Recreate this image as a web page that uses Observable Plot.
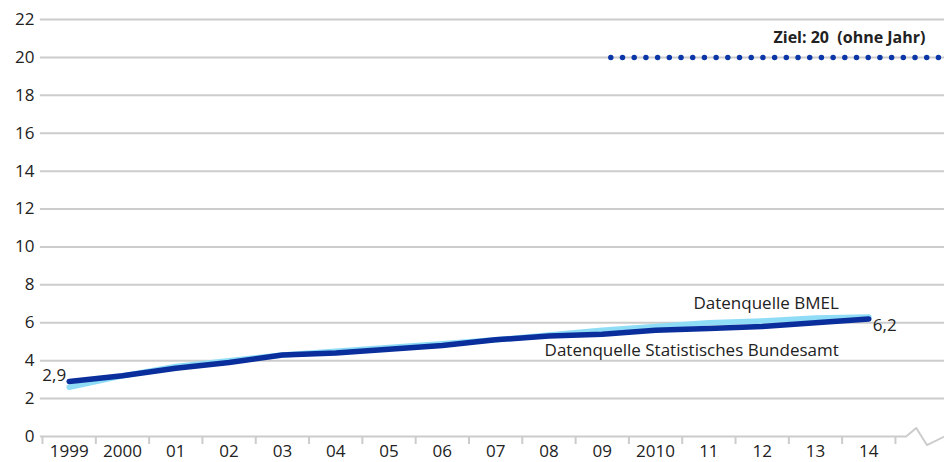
<!DOCTYPE html>
<html>
<head>
<meta charset="utf-8">
<script src="https://cdn.jsdelivr.net/npm/d3@7"></script>
<script src="https://cdn.jsdelivr.net/npm/@observablehq/plot@0.6"></script>
<style>
  html, body { margin: 0; padding: 0; background: #fff; }
  #chart { width: 944px; height: 462px; }
  svg { font-family: "Open Sans", "Noto Sans", sans-serif; }
</style>
</head>
<body>
<div id="chart"></div>
<script>
const years = ["1999","2000","01","02","03","04","05","06","07","08","09","2010","11","12","13","14"];
const destatis = [2.9,3.2,3.6,3.9,4.3,4.4,4.6,4.8,5.1,5.3,5.4,5.6,5.7,5.8,6.0,6.2];
const bmel = [2.6,3.2,3.7,4.0,4.3,4.5,4.7,4.9,5.1,5.35,5.6,5.8,6.0,6.1,6.25,6.3];
const yTicks = [0,2,4,6,8,10,12,14,16,18,20,22];
const target = 20;
const targetLabel = "Ziel: 20  (ohne Jahr)";
const targetStartIndex = 10.17;
const labelBMEL = "Datenquelle BMEL";
const labelDestatis = "Datenquelle Statistisches Bundesamt";
// decorative axis break (x in category units, y in value units)
const breakPath = [{x: 15.7, y: 0}, {x: 15.89, y: 0.45}, {x: 16.09, y: -0.45}, {x: 16.42, y: 0.0}];

const idx = years.map((_, i) => i);
const dDest = years.map((y, i) => ({i, v: destatis[i]}));
const dBmel = years.map((y, i) => ({i, v: bmel[i]}));
const last = years.length - 1;
const boundaries = d3.range(-0.5, years.length + 0.5, 1);
const grid = yTicks.filter(d => d > 0);

const plot = Plot.plot({
  width: 944,
  height: 462,
  marginLeft: 42,
  marginRight: 0,
  marginTop: 19,
  marginBottom: 26,
  style: {fontSize: "17px", color: "#222", fontFamily: "'Open Sans', 'Noto Sans', sans-serif"},
  x: {type: "linear", domain: [-0.5, 16.42], axis: null},
  y: {domain: [0, 22], axis: null},
  marks: [
    Plot.ruleY(grid, {stroke: "#cccccc", strokeWidth: 2, x1: -0.54, x2: 16.42}),
    Plot.ruleY([0], {stroke: "#cccccc", strokeWidth: 2, x1: -0.54, x2: 15.7}),
    Plot.axisY(yTicks, {tickSize: 0, tickPadding: 8, fontSize: 17, fill: "#222", label: null}),
    Plot.axisX(boundaries, {tickSize: 8, tickFormat: () => "", stroke: "#cccccc", strokeWidth: 2, label: null}),
    Plot.axisX(idx, {tickSize: 0, tickPadding: 8, tickFormat: i => years[i], fontSize: 17, fill: "#222", label: null}),
    Plot.line(breakPath, {x: "x", y: "y", stroke: "#cccccc", strokeWidth: 2}),
    Plot.ruleY([target], {x1: targetStartIndex, x2: 16.42, stroke: "#0a36a8", strokeWidth: 5.5, strokeDasharray: "0 11.7", strokeLinecap: "round"}),
    Plot.text([targetLabel], {x: 15.5, y: target, textAnchor: "end", dx: 30, dy: -20, fontWeight: "bold", fontSize: 16, fill: "#222"}),
    Plot.line(dBmel, {x: "i", y: "v", stroke: "#8fdcf6", strokeWidth: 5.5}),
    Plot.line(dDest, {x: "i", y: "v", stroke: "#0a2f9c", strokeWidth: 5.5}),
    Plot.text([destatis[0]], {x: 0, y: d => d, text: d => d.toLocaleString("de-DE"), textAnchor: "end", dx: -3, dy: -6, fontSize: 17, fill: "#222"}),
    Plot.text([destatis[last]], {x: last, y: d => d, text: d => d.toLocaleString("de-DE"), textAnchor: "start", dx: 4, dy: 7, fontSize: 17, fill: "#222"}),
    Plot.text([labelBMEL], {x: last, y: bmel[last], textAnchor: "end", dx: -30, dy: -14, fontSize: 17, fill: "#222"}),
    Plot.text([labelDestatis], {x: last, y: destatis[last], textAnchor: "end", dx: -30, dy: 32, fontSize: 17, fill: "#222"})
  ]
});
document.getElementById("chart").appendChild(plot);
</script>
</body>
</html>
